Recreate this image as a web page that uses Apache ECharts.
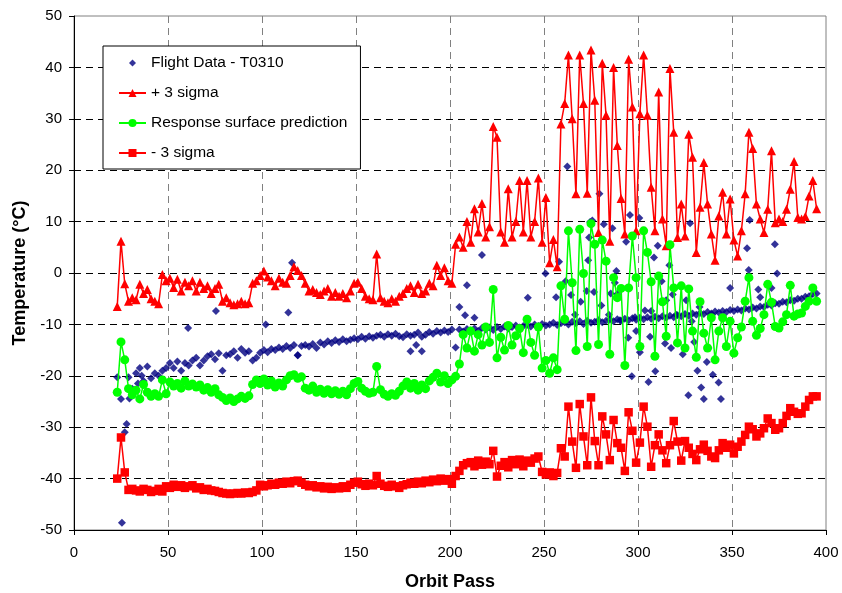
<!DOCTYPE html>
<html>
<head>
<meta charset="utf-8">
<title>Orbit pass temperatures</title>
<script src="https://cdn.jsdelivr.net/npm/echarts@6/dist/echarts.min.js"></script>
<style>
  html, body { margin: 0; padding: 0; background: #fff; }
  #chart { width: 842px; height: 593px; }
</style>
</head>
<body>
<div id="chart"></div>
<script>
// orbit passes sampled every second pass, 23 .. 395
var passes = [];
for (var p = 23; p <= 395; p += 2) passes.push(p);

// + 3 sigma (one row = 10 passes)
var plus3 = [
  -6.5, 6.2, -2.1, -5.5, -4.8, -5.2, -2.2, -4, -3.2, -5,
  -5.5, -6, -0.3, -1.5, -1, -2.8, -1.2, -3.5, -1.8, -2.5,
  -1.5, -3.5, -1.8, -3, -2.5, -4, -3, -2.2, -5.5, -4.8,
  -5.8, -6.2, -6, -5.5, -6, -5.8, -2, -1.5, -0.5, 0.4,
  -0.8, -1.5, -2.5, -1, -1.8, -2, -0.5, 1.2, 0.5, -0.5,
  -2, -3.5, -3.2, -3.8, -4.2, -3.5, -3, -4.5, -3.8, -4.5,
  -4, -4.8, -3.5, -2, -1.8, -3, -4.5, -5, -5.2, 3.7,
  -4.8, -5.5, -5.8, -5, -5.5, -4.5, -4, -3, -2.5, -3.8,
  -2.2, -4, -3.5, -2, -2.5, 1.5, -0.5, 1, -1.5, -2,
  5.6, 7, 5, 10, 6, 12.5, 8, 13.5, 7, 9,
  28.5, 26.4, 8, 6, 16.4, 7, 10, 18, 8, 18,
  7, 10, 18.5, 6, 14.7, 2, 6.5, 1.2, 29, 33,
  42.4, 30, 15.4, 42.4, 33, 15.5, 43.4, 33.6, 7.9, 40.8,
  30.7, 6.2, 40, 24.8, 14.5, 7.6, 41.6, 32.3, 8.2, 31,
  42.4, 30.7, 16.7, 8.2, 35.2, 10.5, 5.3, 39.8, 27.4, 6.9,
  13.4, 7.2, 27, 22.5, 4, 12.8, 21.5, 13.4, 7.6, 2.5,
  11.1, 15.7, 7.6, 14.4, 6.4, 3.3, 8.2, 15.4, 27.4, 24.2,
  13.4, 10.5, 7.9, 12.4, 23.8, 9.8, 10.5, 10, 12.4, 16.3,
  21.7, 10.8, 10.5, 11, 15, 18, 12.5
];

// flight data T0310, main trend on the same passes
var flight = [
  -20.3, -24.5, -31, -20.3, -22.5, -19.5, -18.5, -21, -18.2, -20.5,
  -19.5, -20, -19, -18.5, -17.5, -18.5, -17.2, -19, -17.5, -18,
  -17, -16.5, -18, -17, -16.2, -15.8, -16.8, -15.6, -19, -16,
  -15.8, -15.2, -16.5, -14.8, -15.5, -15.2, -17, -16.5, -15.5, -15,
  -15.4, -14.8, -15, -14.5, -14.8, -14.2, -14.6, -14, -16, -14.2,
  -14, -14.3, -13.8, -14.6, -13.5, -13.9, -13.3, -13.6, -13.1, -13.4,
  -12.9, -13.3, -13, -12.7, -12.9, -12.4, -12.8, -12.3, -12.6, -12.2,
  -12, -12.4, -11.9, -12.2, -11.8, -12.3, -12.5, -11.9, -12.2, -12,
  -11.6, -12.4, -12, -11.5, -11.8, -11.3, -11.6, -11.2, -11.5, -11,
  -14.5, -11, -11.4, -10.9, -11.2, -10.8, -11.3, -10.7, -11, -10.6,
  -11.1, -10.5, -10.9, -10.4, -10.8, -10.5, -10.2, -10.6, -10.3, -10.1,
  -10.4, -10, -10.3, -9.9, -10.2, -10, -9.7, -10.1, -9.8, -9.6,
  -10, -9.5, -9.8, -9.4, -9.9, -9.3, -9.7, -9.5, -9.2, -9.6,
  -9.3, -9.1, -9.4, -9, -9.3, -8.9, -9.2, -8.8, -9.1, -8.7,
  -9, -8.6, -8.9, -8.5, -8.8, -8.4, -8.7, -8.3, -8.6, -8.2,
  -8.4, -8, -8.3, -7.9, -8.1, -7.8, -8, -7.6, -7.9, -7.5,
  -7.7, -7.4, -7.6, -7.2, -7.4, -7.1, -7.3, -6.9, -7.1, -6.7,
  -6.9, -6.5, -6.6, -6.2, -6.3, -5.9, -6, -5.6, -5.7, -5.3,
  -5.4, -5, -5, -4.6, -4.5, -4.1, -4
];

// scattered flight readings off the trend
var flightExtraPass = [
  25.5, 28, 29.5, 34, 36, 60.7, 75.5, 102, 114, 116,
  119, 179, 182, 185, 205, 208, 209, 213, 217, 241.4,
  250.8, 256.4, 258, 261.5, 262.4, 264.4, 266.5, 269.5, 272.7, 273.5,
  274, 274.5, 275.7, 276.6, 279.5, 280.5, 281.8, 284.5, 285.5, 286.4,
  287.7, 288.5, 289, 290.4, 293.7, 294.8, 295.7, 296.7, 298.4, 299,
  300.7, 301, 303.7, 305.6, 306.4, 307, 308.5, 309.2, 310.5, 312.6,
  314.4, 315, 316.7, 317.6, 318.5, 320.3, 323.8, 325.6, 326.8, 327.7,
  328.6, 329.9, 331.6, 332.7, 333.6, 335, 336.6, 337.5, 339.3, 339.8,
  342.9, 344.1, 349, 358, 358.9, 359.4, 364, 365, 371, 372.8,
  374
];
var flightExtraTemp = [
  -48.6, -29.4, -24.4, -21.5, -20, -10.7, -7.4, -10, -7.7, 2,
  -16, -15.2, -14, -15.2, -6.6, -8.2, -2.4, -8.7, 3.5, -4.8,
  -0.1, -4.7, 2.2, -1.6, 20.7, -4.3, -8.1, -5.6, -3.5, 2.5,
  6.9, 9.9, 10.2, -3.7, 15.4, -6.3, 9.5, -8.1, -4, 8.7,
  -1.9, 0.4, -4.1, -9.2, 6.1, -12.6, 11.3, -20.1, -8.6, -11.3,
  10.7, -15.4, -7.3, -21.2, -12.4, -7.4, 3, -19.1, 5.3, -1.6,
  -13.7, -5.3, 1.5, -14.6, -4.2, -8.1, -15.8, -5.3, -23.8, 9.7,
  -9.4, -13.4, -19, -6.6, -22.3, -24.5, -17.3, -14.6, -8.1, -19.8,
  -21.3, -24.5, -2.9, 4.8, 0.6, 10.3, -3.2, -4.7, -2.9, 5.6,
  -0.1
];

// response surface prediction
var response = [
  -23.2, -13.4, -16.9, -22.5, -23.7, -22.8, -24.5, -21.7, -23.2, -24,
  -23.5, -24, -20.8, -23.5, -21.2, -22, -21.5, -22.4, -21, -22,
  -21.6, -22.2, -21.8, -22.8, -22.3, -23.2, -22.5, -23.7, -24.2, -24.8,
  -24.3, -25, -24.5, -24, -24.4, -23.9, -21.7, -20.8, -21.5, -20.6,
  -21.8, -21, -22.2, -21.4, -22, -20.8, -20, -19.8, -20.5, -20.2,
  -22.4, -22.8, -22, -23.2, -22.6, -23.4, -22.7, -23.5, -22.9, -23.6,
  -23, -23.7, -22.5, -21.5, -21.1, -22.4, -23, -23.4, -23.2, -18.2,
  -22.7, -23.6, -24, -23.5, -23.8, -23, -22, -21.2, -22.4, -21.5,
  -22.8, -21.8, -22.5, -21, -20.3, -19.5, -21.2, -20, -21.5, -20.8,
  -20.1, -17.7, -12, -14.6, -11.3, -15.2, -12, -14, -10.5, -13.5,
  -3.2, -16.5, -12.5, -15, -10.2, -14, -12.2, -10.8, -15.5, -9,
  -13.5, -16, -10.5, -18.5, -17, -19.5, -16.5, -18.8, -2.5, -9,
  8.2, -1.9, -15.1, 8.5, -0.1, -14.3, 9.6, 5.6, -13.9, 6.4,
  2.3, -15.8, -0.9, -4.8, -3, -18, -2.9, 7.2, -0.9, -14.3,
  8.2, 4, -1.7, -16.2, -0.6, -5.6, -12.3, 5.5, -2.9, -13.6,
  -2.5, -14.6, -3.1, -11.3, -16.4, -5.6, -11.7, -14.6, -8.7, -16.9,
  -11.3, -8.7, -14.3, -9.4, -15.6, -12.6, -10.5, -5.5, -0.9, -9.4,
  -12.1, -10.8, -8.1, -2.2, -5.7, -10.4, -10.7, -9.5, -8.1, -2.4,
  -8.4, -8, -7.8, -6.5, -5.5, -2.9, -5.5
];

// - 3 sigma
var minus3 = [
  -40, -32, -38.8, -42.2, -42, -42.3, -42.5, -42, -42.2, -42.6,
  -42.4, -42, -42.5, -41.5, -41.8, -41.2, -41.6, -41.3, -41.8, -41.5,
  -41.3, -41.9, -41.7, -42.2, -42, -42.3, -42.4, -42.6, -42.8, -42.9,
  -43, -42.9, -42.8, -42.9, -42.7, -42.8, -42.6, -42.3, -41.2, -41.5,
  -41.3, -41, -41.2, -40.8, -41, -40.6, -40.9, -40.5, -40.4, -40.8,
  -41.2, -41.5, -41.3, -41.7, -41.5, -41.9, -41.6, -42, -41.7, -41.9,
  -41.5, -41.8, -41.2, -40.8, -40.6, -41.1, -41.4, -41, -41.3, -39.5,
  -41, -41.4, -41.6, -41.2, -41.5, -41.8, -41.3, -41.1, -40.8, -41,
  -40.6, -40.9, -40.4, -40.7, -40.2, -40.5, -40, -40.4, -40.1, -41,
  -39.5, -38.5, -37.4, -37, -36.8, -37.6, -36.5, -37.3, -36.7, -37.2,
  -34.6, -39.6, -37.5, -36.8, -37.8, -36.4, -37.2, -36.3, -37.6, -36.5,
  -36.9, -36.1, -35.7, -38.7, -39.2, -38.8, -39.5, -38.9, -34.1, -35.7,
  -26, -32.8, -37.9, -25.5, -31.8, -37.4, -24.2, -32.7, -37.4, -27.9,
  -31.4, -36.4, -28.6, -33.1, -34, -38.5, -27.1, -30.7, -36.9, -33,
  -26, -29.9, -37.7, -33.5, -31.4, -34.5, -37, -33.5, -28.8, -32.8,
  -36.5, -32.7, -34, -35.2, -36.4, -34.3, -33.4, -34.6, -35.7, -36,
  -34.5, -33.1, -34, -33.4, -35.1, -33.8, -32.8, -31.5, -29.9, -30.4,
  -31.8, -31.2, -30.2, -28.3, -29.2, -30.5, -30.2, -29.2, -27.8, -26.3,
  -27, -27.4, -27.3, -26, -24.7, -24, -24
];

var xTicks = [0, 50, 100, 150, 200, 250, 300, 350, 400];
var yTicks = [-50, -40, -30, -20, -10, 0, 10, 20, 30, 40, 50];

var FONT = '"Liberation Sans", Arial, sans-serif';

function zip(xs, ys) {
    return xs.map(function (x, i) { return [x, ys[i]]; });
}

var chart = echarts.init(document.getElementById('chart'));

var flightPoints = zip(passes, flight).concat(zip(flightExtraPass, flightExtraTemp));

chart.setOption({
    animation: false,
    backgroundColor: '#fff',
    textStyle: { fontFamily: FONT },
    grid: {
        left: 74, right: 16, top: 16, bottom: 63,
        show: true,
        borderColor: '#808080',
        borderWidth: 1,
        backgroundColor: 'transparent',
        outerBoundsMode: 'none'
    },
    legend: {
        orient: 'vertical',
        left: 103,
        top: 46,
        backgroundColor: '#fff',
        borderColor: '#000',
        borderWidth: 1,
        borderRadius: 0,
        padding: [9, 13, 8, 15],
        itemWidth: 27,
        itemHeight: 10,
        itemGap: 14,
        textStyle: { fontFamily: FONT, fontSize: 15.5, color: '#000', lineHeight: 16 },
        data: [
            { name: 'Flight Data - T0310', icon: 'path://M0,0M10,10M5,1.5L8.5,5L5,8.5L1.5,5Z' },
            '+ 3 sigma',
            'Response surface prediction',
            '- 3 sigma'
        ]
    },
    xAxis: {
        type: 'value',
        min: xTicks[0],
        max: xTicks[xTicks.length - 1],
        interval: xTicks[1] - xTicks[0],
        name: 'Orbit Pass',
        nameLocation: 'middle',
        nameGap: 43,
        nameTextStyle: { fontFamily: FONT, fontSize: 18, fontWeight: 'bold', color: '#000' },
        axisLine: { show: true, onZero: false, lineStyle: { color: '#000', width: 1 } },
        axisTick: { show: true, inside: false, length: 5, lineStyle: { color: '#000' } },
        axisLabel: { fontFamily: FONT, fontSize: 15, color: '#000', margin: 15 },
        splitLine: {
            show: true, showMinLine: false, showMaxLine: false,
            lineStyle: { color: '#808080', width: 1, type: [7, 5] }
        }
    },
    yAxis: {
        type: 'value',
        min: yTicks[0],
        max: yTicks[yTicks.length - 1],
        interval: yTicks[1] - yTicks[0],
        name: 'Temperature (°C)',
        nameLocation: 'middle',
        nameGap: 41,
        nameTextStyle: { fontFamily: FONT, fontSize: 18, fontWeight: 'bold', color: '#000' },
        axisLine: { show: true, onZero: false, lineStyle: { color: '#000', width: 1 } },
        axisTick: { show: true, inside: false, length: 5, lineStyle: { color: '#000' } },
        axisLabel: { fontFamily: FONT, fontSize: 15, color: '#000', margin: 12 },
        splitLine: {
            show: true, showMinLine: false, showMaxLine: false,
            lineStyle: { color: '#000', width: 1, type: [7, 5] }
        }
    },
    series: [
        {
            name: 'Flight Data - T0310',
            type: 'scatter',
            symbol: 'diamond',
            symbolSize: 8,
            itemStyle: { color: '#000080' },
            data: flightPoints
        },
        {
            name: '+ 3 sigma',
            type: 'line',
            symbol: 'triangle',
            symbolSize: 9,
            showAllSymbol: true,
            itemStyle: { color: '#ff0000' },
            lineStyle: { color: '#ff0000', width: 1.5 },
            data: zip(passes, plus3)
        },
        {
            name: 'Response surface prediction',
            type: 'line',
            symbol: 'circle',
            symbolSize: 9,
            showAllSymbol: true,
            itemStyle: { color: '#00ff00' },
            lineStyle: { color: '#00ff00', width: 1.5 },
            data: zip(passes, response)
        },
        {
            name: '- 3 sigma',
            type: 'line',
            symbol: 'rect',
            symbolSize: 8.5,
            showAllSymbol: true,
            itemStyle: { color: '#ff0000' },
            lineStyle: { color: '#ff0000', width: 1.5 },
            data: zip(passes, minus3)
        }
    ]
});
</script>
</body>
</html>
